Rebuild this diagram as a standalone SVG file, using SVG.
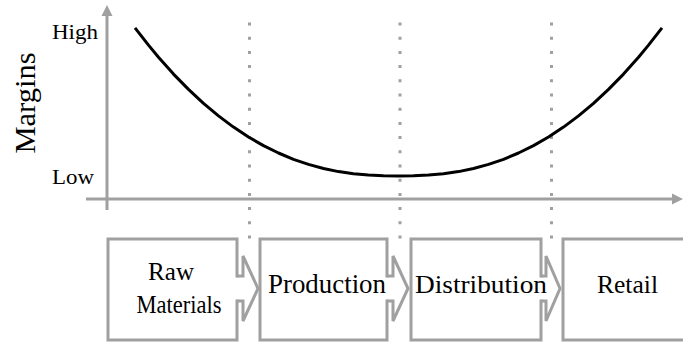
<svg xmlns="http://www.w3.org/2000/svg" width="683" height="345" viewBox="0 0 683 345">
<style>
.axis{stroke:#a0a0a0;stroke-width:3;fill:none}
.ah{fill:#a0a0a0}
.dot{stroke:#a0a0a0;stroke-width:3;stroke-dasharray:3 11.2;fill:none}
.box{fill:none;stroke:#a0a0a0;stroke-width:3;stroke-linejoin:miter}
.arr{fill:#fff;stroke:#a0a0a0;stroke-width:3;stroke-linejoin:miter}
.t{font-family:"Liberation Serif","Times New Roman",serif;fill:#000}
.curve{fill:none;stroke:#000;stroke-width:3;stroke-linejoin:round}
</style>
<rect width="683" height="345" fill="#fff"/>
<g id="axes">
<line class="axis" x1="107" y1="14" x2="107" y2="210"/>
<polygon class="ah" points="107,5 101.5,16 112.5,16"/>
<line class="axis" x1="86" y1="199" x2="674" y2="199"/>
<polygon class="ah" points="683,199 672,193.5 672,204.5"/>
<text class="t" x="52" y="39" font-size="21" textLength="46" lengthAdjust="spacingAndGlyphs">High</text>
<text class="t" x="52" y="184" font-size="21" textLength="42" lengthAdjust="spacingAndGlyphs">Low</text>
<text class="t" transform="translate(35,103) rotate(-90)" text-anchor="middle" font-size="30" textLength="101" lengthAdjust="spacingAndGlyphs">Margins</text>
</g>
<g id="guides">
<line class="dot" x1="249.5" y1="22.5" x2="249.5" y2="242"/>
<line class="dot" x1="400" y1="22.5" x2="400" y2="242"/>
<line class="dot" x1="551.5" y1="22.5" x2="551.5" y2="242"/>
</g>
<g id="curve">
<polyline class="curve" points="135,27.8 148.5,45.1 158.5,57.2 173.5,74.1 188.5,89.4 203.5,103.4 218.5,115.9 233.5,127.1 248.5,137 263.5,145.6 278.5,153 293.5,159.3 308.5,164.4 323.5,168.5 338.5,171.6 353.5,173.8 368.5,175.1 383.5,175.8 398.5,176 413.5,175.8 428.5,175.1 443.5,173.8 458.5,171.6 473.5,168.5 488.5,164.4 503.5,159.3 518.5,153 533.5,145.6 548.5,137 563.5,127.1 578.5,115.9 593.5,103.4 608.5,89.4 623.5,74.1 638.5,57.2 648.5,45.1 662,27.8"/>
</g>
<g id="connectors">
<polyline class="arr" transform="translate(237,0)" points="0,276 6,276 6,256 21,288.5 6,321 6,301 0,301"/>
<polyline class="arr" transform="translate(387,0)" points="0,276 6,276 6,256 21,288.5 6,321 6,301 0,301"/>
<polyline class="arr" transform="translate(541,0)" points="0,276 5,276 5,256 19,288.5 5,321 5,301 0,301"/>
</g>
<g id="node-raw-materials">
<path class="box" d="M237,277.5 V239 H108 V340 H237 V299.5"/>
<text class="t" x="171" y="280" font-size="25" text-anchor="middle" textLength="46" lengthAdjust="spacingAndGlyphs">Raw</text>
<text class="t" x="179" y="313" font-size="25" text-anchor="middle" textLength="85" lengthAdjust="spacingAndGlyphs">Materials</text>
</g>
<g id="node-production">
<path class="box" d="M387,277.5 V239 H260 V340 H387 V299.5"/>
<text class="t" x="327" y="292.5" font-size="27" text-anchor="middle" textLength="118" lengthAdjust="spacingAndGlyphs">Production</text>
</g>
<g id="node-distribution">
<path class="box" d="M541,277.5 V239 H411 V340 H541 V299.5"/>
<text class="t" x="481" y="292.5" font-size="26" text-anchor="middle" textLength="132" lengthAdjust="spacingAndGlyphs">Distribution</text>
</g>
<g id="node-retail">
<path class="box" d="M690,239 H563 V340 H690"/>
<text class="t" x="627.5" y="292.5" font-size="26" text-anchor="middle" textLength="61" lengthAdjust="spacingAndGlyphs">Retail</text>
</g>
</svg>
